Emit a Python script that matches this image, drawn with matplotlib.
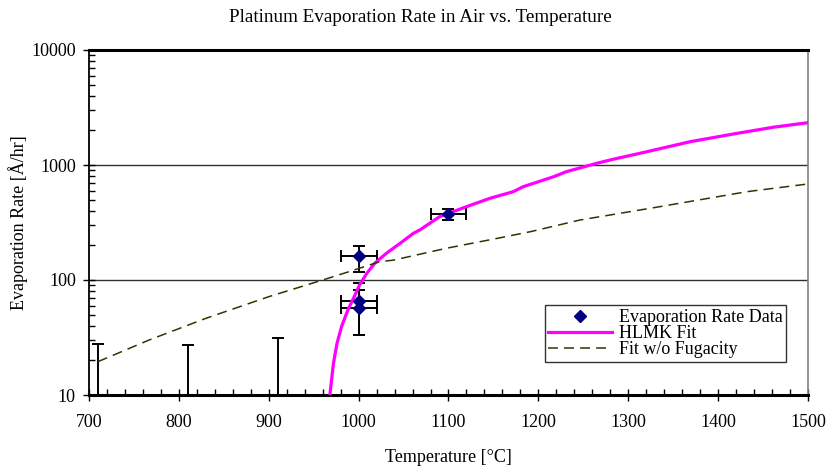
import numpy as np
import matplotlib
matplotlib.use('Agg')
import matplotlib.pyplot as plt
from matplotlib.ticker import MultipleLocator, LogLocator, NullFormatter

plt.rcParams['font.family'] = ['Liberation Serif', 'DejaVu Serif']

# measured evaporation rates (Å/hr) with uncertainties
temp_data = [1000, 1000, 1000, 1100]
rate_data = [162, 66, 57, 372]
rate_lo = [118, 33, 33, 332]
rate_hi = [199, 95, 82, 414]
temp_err = [20, 20, 20, 20]

# runs below the plotted range, only the upper limit shows
temp_low = [710, 810, 910]
rate_low = [5, 5, 5]
rate_low_hi = [28, 27, 31.5]

# HLMK model
hlmk_t = [968, 972, 976, 981, 988, 996, 1001, 1009, 1018, 1031, 1046,
          1061, 1068, 1090, 1120, 1146, 1172, 1183, 1217, 1231, 1265, 1283,
          1313, 1369, 1417, 1461, 1500]
hlmk_r = [10, 18.9, 28.2, 39.3, 54.8, 74.1, 90.5, 114, 140, 171, 208,
          255, 272, 355, 434, 513, 586, 647, 791, 874, 1035, 1121,
          1264, 1595, 1861, 2128, 2333]

# same fit without the fugacity term
nofug_t = [710, 767, 830, 900, 960, 989, 1023, 1039, 1098, 1154, 1191, 1246,
           1335, 1432, 1500]
nofug_r = [19.5, 30.1, 46.4, 71.6, 100, 118, 144, 149, 189, 230, 263, 332,
           434, 586, 684]

fig = plt.figure(figsize=(8.28, 4.70), dpi=100)
ax = fig.add_axes([89 / 828, 1 - 395 / 470, 719 / 828, 345 / 470])

ax.set_yscale('log')
ax.set_xlim(700, 1500)
ax.set_ylim(10, 10000)

for v in [100, 1000]:
    ax.axhline(v, color='#303030', lw=1.0, zorder=1)

rate_data = np.array(rate_data)
yerr = [rate_data - np.array(rate_lo), np.array(rate_hi) - rate_data]
ax.errorbar(temp_data, rate_data, xerr=temp_err, yerr=yerr, fmt='none',
            ecolor='black', elinewidth=1.4, capsize=4.5, capthick=1.4, zorder=3)
ax.plot(temp_data, rate_data, 'D', color='#000080', markersize=6,
        linestyle='none', zorder=5, label='Evaporation Rate Data')

rate_low = np.array(rate_low)
ax.errorbar(temp_low, rate_low, yerr=[np.zeros(3), np.array(rate_low_hi) - rate_low],
            fmt='none', ecolor='black', elinewidth=1.4, capsize=4.5,
            capthick=1.4, zorder=3)

ax.plot(hlmk_t, hlmk_r, color='#FF00FF', lw=2.3, zorder=4, label='HLMK Fit')
ax.plot(nofug_t, nofug_r, color='#333300', lw=1.1, dashes=(6.5, 4), zorder=4,
        label='Fit w/o Fugacity')

# axes styling
ax.xaxis.set_major_locator(MultipleLocator(100))
ax.xaxis.set_minor_locator(MultipleLocator(20))
ax.yaxis.set_major_locator(LogLocator(base=10, numticks=10))
ax.yaxis.set_minor_locator(LogLocator(base=10, subs=np.arange(2, 10), numticks=10))
ax.yaxis.set_minor_formatter(NullFormatter())
ax.yaxis.set_major_formatter(matplotlib.ticker.FuncFormatter(lambda v, p: '%d' % round(v)))

ax.tick_params(axis='both', which='major', direction='inout', length=9,
               width=1.0, labelsize=13, color='black')
ax.tick_params(axis='both', which='minor', direction='in', length=4, width=1.0)
ax.tick_params(axis='x', pad=9)
ax.tick_params(axis='y', pad=5)

ax.spines['top'].set_linewidth(2.2)
ax.spines['bottom'].set_linewidth(2.2)
ax.spines['left'].set_linewidth(1.3)
ax.spines['right'].set_color('#808080')
ax.spines['right'].set_linewidth(1.2)

ax.set_xlabel('Temperature [°C]', fontsize=13, labelpad=13)
ax.set_ylabel('Evaporation Rate [Å/hr]', fontsize=13, labelpad=2)
fig.text(0.508, 0.962, 'Platinum Evaporation Rate in Air vs. Temperature',
         ha='center', va='center', fontsize=13.8)

leg = ax.legend(loc='lower left', bbox_to_anchor=(0.634, 0.096), fontsize=13,
                frameon=True, fancybox=False, handlelength=3.5,
                borderpad=0.2, labelspacing=-0.05, handletextpad=0.4,
                borderaxespad=0)
leg.get_frame().set_edgecolor('black')
leg.get_frame().set_linewidth(1.0)

fig.savefig('out.png', dpi=100)
